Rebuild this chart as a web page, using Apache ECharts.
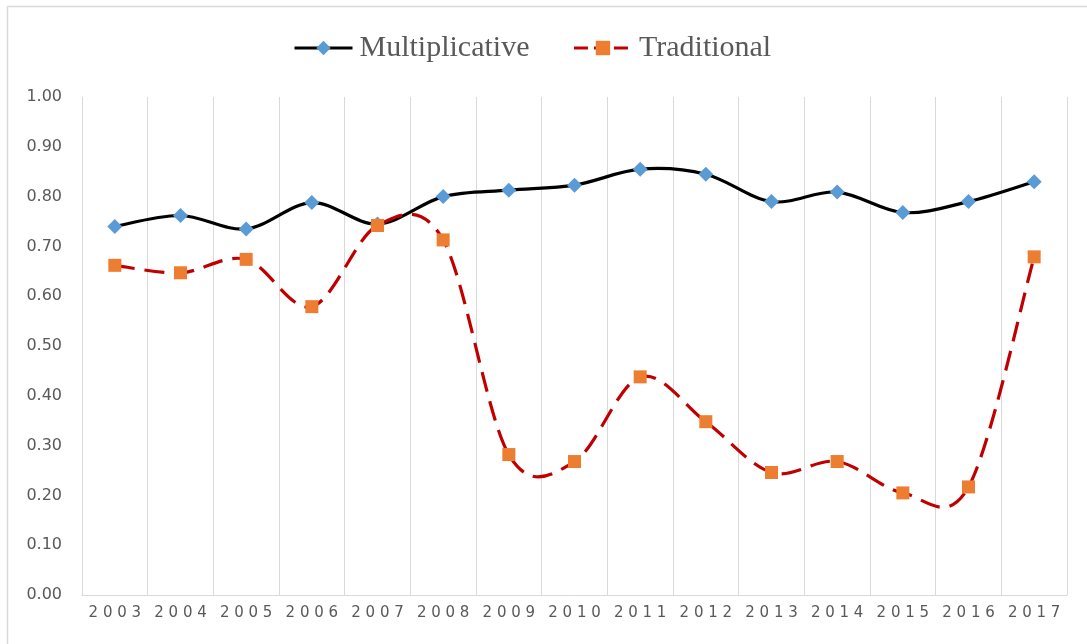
<!DOCTYPE html>
<html>
<head>
<meta charset="utf-8">
<script src="https://cdn.jsdelivr.net/npm/echarts@6/dist/echarts.min.js"></script>
<style>
html,body{margin:0;padding:0;background:#fff;}
#chart{width:1087px;height:644px;}
</style>
</head>
<body>
<div id="chart"></div>
<script>
const years = ['2003','2004','2005','2006','2007','2008','2009','2010','2011','2012','2013','2014','2015','2016','2017'];
const multiplicative = [0.74,0.762,0.735,0.788,0.745,0.80,0.813,0.823,0.855,0.845,0.79,0.809,0.768,0.79,0.83];
const traditional = [0.662,0.647,0.674,0.579,0.742,0.713,0.282,0.268,0.438,0.348,0.246,0.268,0.205,0.217,0.679];
const seriesNames = ['Multiplicative','Traditional'];

// Smooth curve (Catmull-Rom style, like Excel's smoothed line) through pixel coords from the axes
function curveRenderer(values, stroke, dash){
  return function(params, api){
    if (params.dataIndex !== 0) return null;
    const pts = values.map(function(v,i){ return api.coord([i, v]); });
    let d = 'M' + pts[0][0] + ' ' + pts[0][1];
    for (let i = 0; i < pts.length - 1; i++){
      const p0 = pts[i-1] || pts[i], p1 = pts[i], p2 = pts[i+1], p3 = pts[i+2] || pts[i+1];
      const c1x = p1[0] + (p2[0]-p0[0])/6, c1y = p1[1] + (p2[1]-p0[1])/6;
      const c2x = p2[0] - (p3[0]-p1[0])/6, c2y = p2[1] - (p3[1]-p1[1])/6;
      d += ' C' + c1x + ' ' + c1y + ' ' + c2x + ' ' + c2y + ' ' + p2[0] + ' ' + p2[1];
    }
    const style = {fill:'none', stroke:stroke, lineWidth:3.2, lineCap:'butt', lineJoin:'round'};
    if (dash) style.lineDash = dash;
    return {type:'path', shape:{pathData:d}, style:style, silent:true};
  };
}

const chart = echarts.init(document.getElementById('chart'), null, {renderer:'canvas'});
chart.setOption({
  backgroundColor:'#ffffff',
  animation:false,
  graphic:[{
    type:'rect', silent:true, z:-10,
    shape:{x:7.5,y:6.5,width:1200,height:800},
    style:{fill:'none',stroke:'#d9d9d9',lineWidth:1.5}
  }],
  legend:{
    left:293, top:33, padding:0,
    itemWidth:58, itemHeight:18, itemGap:43,
    textStyle:{fontFamily:'Liberation Serif',fontSize:30,color:'#595959',padding:[0,0,0,2]},
    data:[
      {name:seriesNames[0], lineStyle:{color:'#000000',width:3,opacity:1,type:'solid'}},
      {name:seriesNames[1], lineStyle:{color:'#C00000',width:3,opacity:1,type:[14,6]}}
    ]
  },
  grid:{left:82,right:20,top:97,bottom:49,containLabel:false},
  xAxis:{
    type:'category',
    data:years,
    boundaryGap:true,
    axisLine:{show:true,lineStyle:{color:'#d9d9d9',width:1}},
    axisTick:{show:false},
    axisLabel:{
      color:'#595959',fontFamily:'DejaVu Sans',fontSize:15,margin:11,interval:0,
      formatter:function(v){return v.split('').join(' ');}
    },
    splitLine:{show:true,showMinLine:true,showMaxLine:true,lineStyle:{color:'#d9d9d9',width:1}}
  },
  yAxis:{
    type:'value',min:0,max:1,interval:0.1,
    axisLine:{show:true,lineStyle:{color:'#d9d9d9',width:1}},
    axisTick:{show:false},
    splitLine:{show:false},
    axisLabel:{color:'#595959',fontFamily:'DejaVu Sans',fontSize:16,margin:20,
      formatter:function(v){return v.toFixed(2);}}
  },
  series:[
    {
      type:'custom', name:'curve-m', renderItem:curveRenderer(multiplicative,'#000000',null),
      data:multiplicative.map(function(v,i){return [i,v];}), encode:{x:0,y:1}, silent:true
    },
    {
      name:seriesNames[0],type:'line',data:multiplicative,
      symbol:'diamond',symbolSize:15,
      lineStyle:{color:'#000000',width:3,opacity:0},
      itemStyle:{color:'#5B9BD5',borderWidth:0}
    },
    {
      type:'custom', name:'curve-t', renderItem:curveRenderer(traditional,'#C00000',[20,10]),
      data:traditional.map(function(v,i){return [i,v];}), encode:{x:0,y:1}, silent:true
    },
    {
      name:seriesNames[1],type:'line',data:traditional,
      symbol:'rect',symbolSize:13,
      lineStyle:{color:'#C00000',width:3,opacity:0},
      itemStyle:{color:'#ED7D31',borderWidth:0}
    }
  ]
});
</script>
</body>
</html>
